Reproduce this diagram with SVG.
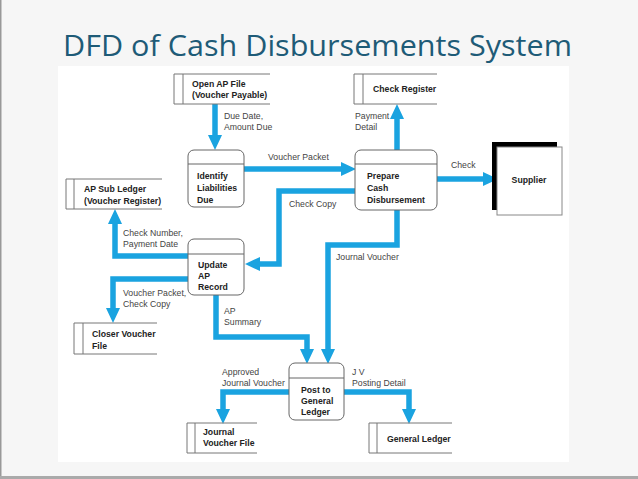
<svg xmlns="http://www.w3.org/2000/svg" width="638" height="479" viewBox="0 0 638 479">
<style>
.ds{fill:none;stroke:#777;stroke-width:1}
.pr{fill:#fff;stroke:#666;stroke-width:1}
.dv{stroke:#666;stroke-width:1}
.b{font-family:"Liberation Sans",Arial,sans-serif;font-size:8.7px;font-weight:bold;fill:#222}
.l{font-family:"Liberation Sans",Arial,sans-serif;font-size:8.7px;fill:#444}
.f{fill:none;stroke:#1aa3e0;stroke-width:5.5;stroke-linejoin:miter}
</style>
<defs>
<marker id="ah" markerUnits="userSpaceOnUse" markerWidth="15" markerHeight="14" refX="1" refY="7" orient="auto" viewBox="0 0 15 14">
<path d="M0,0 L15,7 L0,14 z" fill="#1aa3e0"/>
</marker>
</defs>
<rect x="0" y="0" width="638" height="479" fill="#f6f6f6"/>
<rect x="0" y="0" width="1.5" height="479" fill="#999"/>
<rect x="0" y="476" width="638" height="3" fill="#aaa"/>
<rect x="58" y="66" width="511" height="396" fill="#fff"/>
<text x="63" y="56" font-family="'Open Sans','Noto Sans',sans-serif" font-size="29" fill="#1e5b77" textLength="509" lengthAdjust="spacingAndGlyphs">DFD of Cash Disbursements System</text>

<g id="connectors">
<path class="f" d="M215,104 V136" marker-end="url(#ah)"/>
<path class="f" d="M244,169 H342" marker-end="url(#ah)"/>
<path class="f" d="M397,150 V118" marker-end="url(#ah)"/>
<path class="f" d="M437,179 H484" marker-end="url(#ah)"/>
<path class="f" d="M188,256 H115 V223" marker-end="url(#ah)"/>
<path class="f" d="M355,191 H279 V264 H259" marker-end="url(#ah)"/>
<path class="f" d="M397,210 V245 H328 V350" marker-end="url(#ah)"/>
<path class="f" d="M188,279 H113 V309" marker-end="url(#ah)"/>
<path class="f" d="M216,295 V337 H307 V350" marker-end="url(#ah)"/>
<path class="f" d="M289,392 H223 V410" marker-end="url(#ah)"/>
<path class="f" d="M344,392 H409 V410" marker-end="url(#ah)"/>
<text class="l" x="224" y="119">Due Date,</text>
<text class="l" x="224" y="130">Amount Due</text>
<text class="l" x="268" y="160">Voucher Packet</text>
<text class="l" x="355" y="119">Payment</text>
<text class="l" x="355" y="130">Detail</text>
<text class="l" x="451" y="168">Check</text>
<text class="l" x="289" y="207">Check Copy</text>
<text class="l" x="123" y="236">Check Number,</text>
<text class="l" x="123" y="247">Payment Date</text>
<text class="l" x="336" y="260">Journal Voucher</text>
<text class="l" x="123" y="296">Voucher Packet,</text>
<text class="l" x="123" y="307">Check Copy</text>
<text class="l" x="224" y="314">AP</text>
<text class="l" x="224" y="325">Summary</text>
<text class="l" x="222" y="375">Approved</text>
<text class="l" x="222" y="386">Journal Voucher</text>
<text class="l" x="352" y="375">J V</text>
<text class="l" x="352" y="386">Posting Detail</text>
</g>

<g id="open-ap-file">
<path class="ds" d="M270,74 H174 V104 H270 M183,74 V104"/>
<text class="b" x="192" y="87">Open AP File</text>
<text class="b" x="192" y="98">(Voucher Payable)</text>
</g>
<g id="check-register">
<path class="ds" d="M437,74 H354 V104 H437 M363,74 V104"/>
<text class="b" x="373" y="92">Check Register</text>
</g>
<g id="identify">
<rect class="pr" x="188" y="150" width="56" height="57" rx="6"/>
<line class="dv" x1="188" y1="164" x2="244" y2="164"/>
<text class="b" x="197" y="179">Identify</text>
<text class="b" x="197" y="191">Liabilities</text>
<text class="b" x="197" y="203">Due</text>
</g>
<g id="prepare">
<rect class="pr" x="355" y="150" width="82" height="60" rx="6"/>
<line class="dv" x1="355" y1="164" x2="437" y2="164"/>
<text class="b" x="367" y="179">Prepare</text>
<text class="b" x="367" y="191">Cash</text>
<text class="b" x="367" y="203">Disbursement</text>
</g>
<g id="supplier">
<rect x="492" y="142" width="65" height="68" fill="#000"/>
<rect x="497" y="147" width="65" height="68" fill="#fff" stroke="#888" stroke-width="1"/>
<text class="b" x="529" y="183" text-anchor="middle">Supplier</text>
</g>
<g id="ap-sub-ledger">
<path class="ds" d="M162,179 H66 V209 H162 M74,179 V209"/>
<text class="b" x="84" y="192">AP Sub Ledger</text>
<text class="b" x="84" y="204">(Voucher Register)</text>
</g>
<g id="update-ap">
<rect class="pr" x="188" y="239" width="56" height="56" rx="6"/>
<line class="dv" x1="188" y1="254" x2="244" y2="254"/>
<text class="b" x="198" y="268">Update</text>
<text class="b" x="198" y="279">AP</text>
<text class="b" x="198" y="290">Record</text>
</g>
<g id="closer-voucher-file">
<path class="ds" d="M157,323 H74 V354 H157 M83,323 V354"/>
<text class="b" x="92" y="337">Closer Voucher</text>
<text class="b" x="92" y="349">File</text>
</g>
<g id="post-gl">
<rect class="pr" x="289" y="363" width="55" height="57" rx="6"/>
<line class="dv" x1="289" y1="378" x2="344" y2="378"/>
<text class="b" x="301" y="393">Post to</text>
<text class="b" x="301" y="404">General</text>
<text class="b" x="301" y="415">Ledger</text>
</g>
<g id="journal-voucher-file">
<path class="ds" d="M257,423 H187 V453 H257 M195,423 V453"/>
<text class="b" x="203" y="435">Journal</text>
<text class="b" x="203" y="446">Voucher File</text>
</g>
<g id="general-ledger">
<path class="ds" d="M452,423 H369 V453 H452 M377,423 V453"/>
<text class="b" x="387" y="442">General Ledger</text>
</g>
</svg>
